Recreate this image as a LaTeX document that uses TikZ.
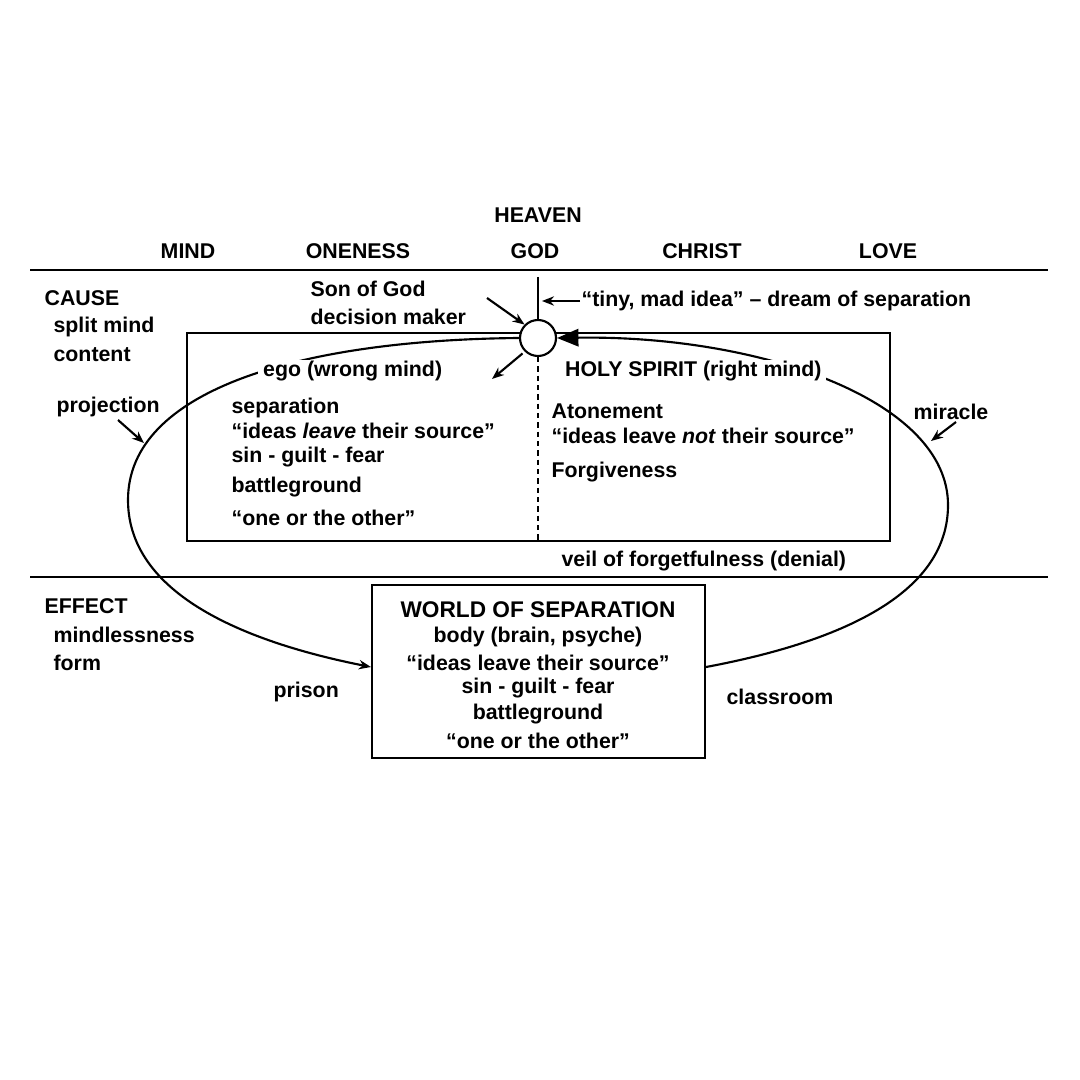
\documentclass[tikz,border=0pt]{standalone}
\usepackage{fontspec}
\setmainfont{Liberation Sans}
\usetikzlibrary{arrows.meta}
\begin{document}
\begin{tikzpicture}[x=0.75pt,y=-0.75pt,
  t/.style={font=\fontsize{16}{19}\selectfont\bfseries,inner sep=1pt},
  tl/.style={t,anchor=west},
  lw/.style={line width=1.6pt},
  sa/.style={lw,-{Stealth[length=9pt,width=7pt]}},
  ba/.style={lw,-{Triangle[length=16pt,width=13pt]}}]
\useasboundingbox (0,0) rectangle (1080,1080);
\draw[lw] (30,270) -- (1048,270);
\draw[lw] (30,577) -- (1048,577);
\draw[lw] (187,333) rectangle (890,541);
\node[draw,lw,circle,minimum size=36pt*0.75,inner sep=0,fill=white] (C) at (538,338) {};
\coordinate (top) at (538,277);
\draw[lw] (top) -- (C.north);
\coordinate (dash) at (538,541);
\draw[lw,dash pattern=on 4pt off 3pt] (C.south) -- (dash);
\node[draw,lw,minimum width=333*0.75pt,minimum height=173*0.75pt,fill=white] (W) at (538.5,671.5) {};
% arcs
\draw[sa] (C.west) .. controls (300,340) and (128,390) .. (128,500) .. controls (128,600) and (260,645) .. (W.west |- 0,667);
\draw[ba] (W.east |- 0,667) .. controls (850,640) and (948,590) .. (948,505) .. controls (948,400) and (760,335) .. (C.east);
% top
\node[t] (heaven) at (538,215) {HEAVEN};
\node[t] (mind) at (188,251) {MIND};
\node[t] (oneness) at (358,251) {ONENESS};
\node[t] (god) at (535,251) {GOD};
\node[t] (christ) at (702,251) {CHRIST};
\node[t] (love) at (888,251) {LOVE};
\node[tl] (cause) at (43,298) {CAUSE};
\node[tl] (split) at (52,327) {split mind};
\node[tl] (content) at (52,355) {content};
\node[tl] (son) at (309,289) {Son of God};
\node[tl] (dm) at (309,317) {decision maker};
\coordinate (a1) at (487,298);
\draw[sa] (a1) -- (C.north west);
\node[tl] (tiny) at (580,301) {``tiny, mad idea'' -- dream of separation};
\coordinate (a2) at (542,301);
\draw[sa] (tiny.west) -- (a2);
\node[tl,fill=white] (ego) at (258,371) {\,ego (wrong mind)\,};
\coordinate (a3) at (492,379);
\draw[sa] (C.south west) ++(-2,2) coordinate (a3s) (a3s) -- (a3);
\node[tl,fill=white] (hs) at (560,371) {\,HOLY SPIRIT (right mind)\,};
\node[tl] at (230,408) {separation};
\node[tl] at (230,431) {``ideas \emph{leave} their source''};
\node[tl] at (230,457) {sin - guilt - fear};
\node[tl] at (230,487) {battleground};
\node[tl] at (230,518) {``one or the other''};
\node[tl] at (550,411) {Atonement};
\node[tl] at (550,436) {``ideas leave \emph{not} their source''};
\node[tl] at (550,472) {Forgiveness};
\node[tl] (proj) at (55,407) {projection};
\coordinate (p1) at (118,420); \coordinate (p2) at (144,443);
\draw[sa] (p1) -- (p2);
\node[tl] (mir) at (912,412) {miracle};
\coordinate (m1) at (956,422); \coordinate (m2) at (931,441);
\draw[sa] (m1) -- (m2);
\node[tl] at (560,561) {veil of forgetfulness (denial)};
\node[tl] at (43,606) {EFFECT};
\node[tl] at (52,635) {mindlessness};
\node[tl] at (52,663) {form};
\node[tl] at (272,692) {prison};
\node[tl] at (725,697) {classroom};
\node[t,font=\fontsize{17}{20}\selectfont\bfseries] at (538,610) {WORLD OF SEPARATION};
\node[t] at (538,637) {body (brain, psyche)};
\node[t] at (538,663) {``ideas leave their source''};
\node[t] at (538,688) {sin - guilt - fear};
\node[t] at (538,714) {battleground};
\node[t] at (538,741) {``one or the other''};
\end{tikzpicture}
\end{document}
